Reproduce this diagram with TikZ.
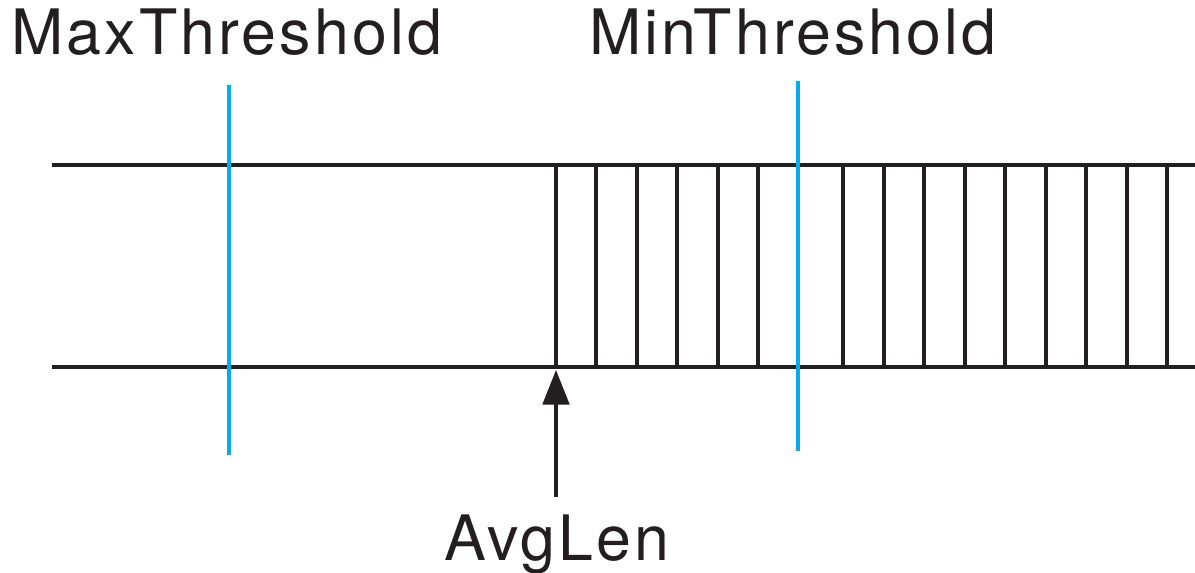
\documentclass[tikz,border=0pt]{standalone}
\usepackage{fontspec}
\setmainfont{TeX Gyre Heros}
\usetikzlibrary{arrows.meta}
\definecolor{cyanline}{RGB}{0,174,239}
\definecolor{ink}{RGB}{35,31,32}
\begin{document}
\begin{tikzpicture}[x=0.75pt,y=-0.75pt,
  rail/.style={draw=ink,line width=2.3pt},
  bar/.style={draw=ink,line width=2.3pt},
  thresh/.style={draw=cyanline,line width=2.3pt},
  lbl/.style={inner sep=0pt,font=\fontsize{47}{52}\selectfont\addfontfeatures{LetterSpace=5},text=ink},
  pointer/.style={draw=ink,line width=2.3pt,-{Triangle[length=26pt,width=20pt]}}]
\useasboundingbox (0,0) rectangle (1195,573);
% rails
\coordinate (tl) at (52,165);
\coordinate (tr) at (1195,165);
\coordinate (bl) at (52,367);
\coordinate (br) at (1195,367);
\draw[rail] (tl) -- (tr);
\draw[rail] (bl) -- (br);
% queue slots
\foreach \x in {556,596,637,677,718,758,843,884,924,965,1005,1046,1086,1127,1167}{
  \draw[bar] (\x,165) -- (\x,367);
}
% thresholds
\coordinate (maxtop) at (229,85);
\coordinate (maxbot) at (229,455);
\coordinate (mintop) at (798,81);
\coordinate (minbot) at (798,451);
\draw[thresh] (maxtop) -- (maxbot);
\draw[thresh] (mintop) -- (minbot);
% labels
\node[lbl,anchor=base west] (maxl) at (11,55) {MaxThreshold};
\node[lbl,anchor=base west] (minl) at (589,55) {MinThreshold};
\node[lbl,anchor=base] (avg) at (557,560) {AvgLen};
% arrow
\coordinate (avgtip) at (556,370);
\coordinate (avgtail) at (556,497);
\draw[pointer] (avgtail) -- (avgtip);
\end{tikzpicture}
\end{document}
